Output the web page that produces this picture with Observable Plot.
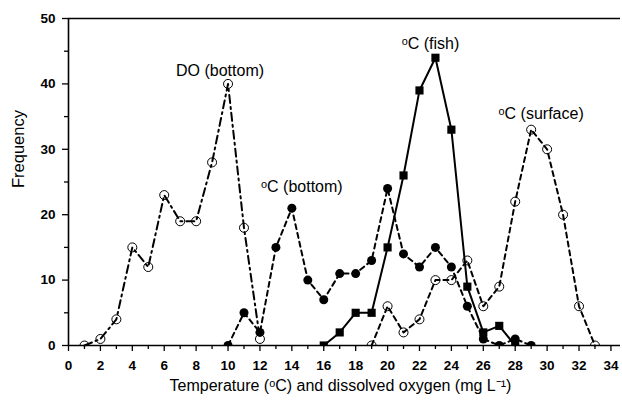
<!DOCTYPE html>
<html><head><meta charset="utf-8">
<script src="https://cdn.jsdelivr.net/npm/d3@7"></script>
<script src="https://cdn.jsdelivr.net/npm/@observablehq/plot@0.6"></script>
<style>body{margin:0;background:#fff} svg{display:block}</style>
</head><body><div id="chart"></div>
<script>
// DO (bottom): open circles, dash-dot
const doBottomX = [1,2,3,4,5,6,7,8,9,10,11,12];
const doBottomY = [0,1,4,15,12,23,19,19,28,40,18,1];
// °C (bottom): filled circles, dashed
const tBottomX = [10,11,12,13,14,15,16,17,18,19,20,21,22,23,24,25,26,27,28,29];
const tBottomY = [0,5,2,15,21,10,7,11,11,13,24,14,12,15,12,6,1,0,1,0];
// °C (surface): open circles, dashed
const tSurfaceX = [19,20,21,22,23,24,25,26,27,28,29,30,31,32,33];
const tSurfaceY = [0,6,2,4,10,10,13,6,9,22,33,30,20,6,0];
// °C (fish): filled squares, solid
const tFishX = [16,17,18,19,20,21,22,23,24,25,26,27,28];
const tFishY = [0,2,5,5,15,26,39,44,33,9,2,3,0];

const seriesNames = ["DO (bottom)", "ᵒC (bottom)", "ᵒC (fish)", "ᵒC (surface)"];
// x value of the point each series label sits over
const labelAtX = [10, 14, 23, 29];
const xTicks = [0,2,4,6,8,10,12,14,16,18,20,22,24,26,28,30,32,34];
const xMinor = [1,3,5,7,9,11,13,15,17,19,21,23,25,27,29,31,33];
const yTicks = [0,10,20,30,40,50];
const yMinor = [5,15,25,35,45];
const xLabel = "Temperature (ᵒC) and dissolved oxygen (mg L⁻¹)";
const yLabel = "Frequency";

const zip = (xs, ys) => xs.map((x, i) => ({x, y: ys[i]}));
const doB = zip(doBottomX, doBottomY);
const tB = zip(tBottomX, tBottomY);
const tS = zip(tSurfaceX, tSurfaceY);
const tF = zip(tFishX, tFishY);
const at = (d, x) => d.find(p => p.x === x);

const font = "'Liberation Sans', Arial, sans-serif";
const chart = Plot.plot({
  width: 622, height: 405,
  marginLeft: 68, marginRight: 2, marginTop: 18, marginBottom: 60,
  style: {fontFamily: font, background: "#fff", color: "#000"},
  x: {domain: [0, 34.6]},
  y: {domain: [0, 50]},
  marks: [
    Plot.axisX({ticks: xTicks, tickSize: 6, tickPadding: 9, fontSize: 13.5, fontWeight: "bold", label: null, strokeWidth: 1.3}),
    Plot.axisX({ticks: xMinor, tickSize: 4, text: null, label: null, strokeWidth: 1.3}),
    Plot.axisY({ticks: yTicks, tickSize: 6, tickPadding: 7, fontSize: 13.5, fontWeight: "bold", label: null, strokeWidth: 1.3}),
    Plot.axisY({ticks: yMinor, tickSize: 4, text: null, label: null, strokeWidth: 1.3}),
    Plot.ruleY([0], {strokeWidth: 1.6}),
    Plot.ruleX([0], {strokeWidth: 1.6}),
    Plot.ruleY([50], {strokeWidth: 1.6}),
    Plot.line(doB, {x: "x", y: "y", strokeWidth: 2, strokeDasharray: "8,4,2,4"}),
    Plot.line(tB, {x: "x", y: "y", strokeWidth: 2, strokeDasharray: "5,4"}),
    Plot.line(tS, {x: "x", y: "y", strokeWidth: 2, strokeDasharray: "5,4"}),
    Plot.line(tF, {x: "x", y: "y", strokeWidth: 2}),
    Plot.dot(doB, {x: "x", y: "y", r: 4.5, stroke: "#000", strokeWidth: 1, fill: "none", clip: true}),
    Plot.dot(tS, {x: "x", y: "y", r: 4.5, stroke: "#000", strokeWidth: 1, fill: "none", clip: true}),
    Plot.dot(tB, {x: "x", y: "y", r: 4.5, fill: "#000", stroke: "none", clip: true}),
    Plot.dot(tF, {x: "x", y: "y", symbol: "square", r: 4.6, fill: "#000", stroke: "none", clip: true}),
    Plot.text([at(doB, labelAtX[0])], {x: "x", y: "y", text: () => seriesNames[0], dx: -8, dy: -13, fontSize: 16}),
    Plot.text([at(tB, labelAtX[1])], {x: "x", y: "y", text: () => seriesNames[1], dx: 10, dy: -21, fontSize: 16}),
    Plot.text([at(tF, labelAtX[2])], {x: "x", y: "y", text: () => seriesNames[2], dx: -5, dy: -14, fontSize: 16}),
    Plot.text([at(tS, labelAtX[3])], {x: "x", y: "y", text: () => seriesNames[3], dx: 10, dy: -16, fontSize: 16}),
    Plot.text([xLabel], {frameAnchor: "bottom", dy: 45, dx: -4, fontSize: 16}),
    Plot.text([yLabel], {frameAnchor: "left", rotate: -90, dx: -50, dy: 6, fontSize: 16.5})
  ]
});
document.getElementById("chart").appendChild(chart);
</script>
</body></html>
